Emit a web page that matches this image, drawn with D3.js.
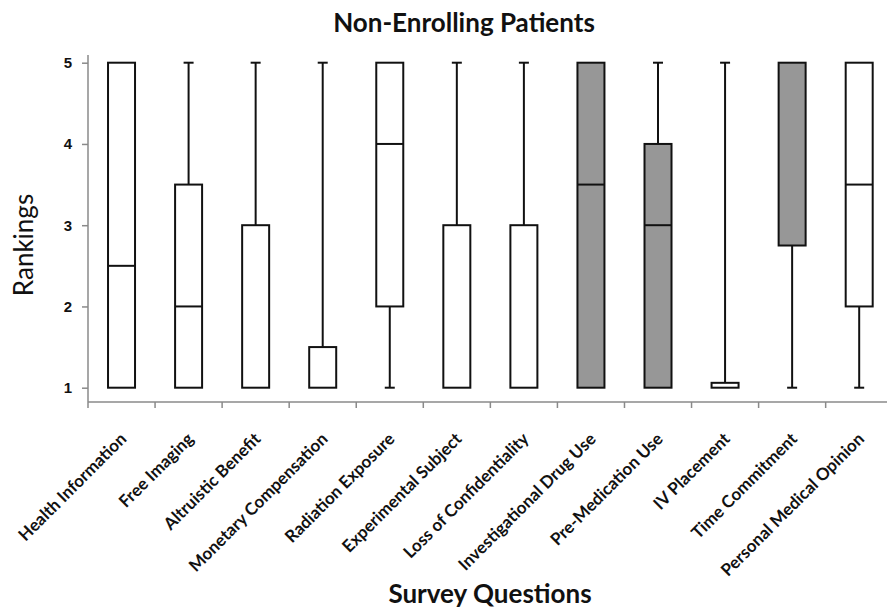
<!DOCTYPE html>
<html>
<head>
<meta charset="utf-8">
<script src="https://cdn.jsdelivr.net/npm/d3@7"></script>
<style>
  body { margin: 0; background: #fff; }
  svg { display: block; font-family: Lato, 'Open Sans', sans-serif; }
</style>
</head>
<body>
<div id="chart"></div>
<script>
const categories = ['Health Information', 'Free Imaging', 'Altruistic Benefit', 'Monetary Compensation',
  'Radiation Exposure', 'Experimental Subject', 'Loss of Confidentiality', 'Investigational Drug Use',
  'Pre-Medication Use', 'IV Placement', 'Time Commitment', 'Personal Medical Opinion'];
const minValues    = [1, 1, 1, 1, 1, 1, 1, 1, 1, 1, 1, 1];
const q1Values     = [1, 1, 1, 1, 2, 1, 1, 1, 1, 1, 2.75, 2];
const medianValues = [2.5, 2, 1, 1, 4, 1, 1, 3.5, 3, 1, 5, 3.5];
const q3Values     = [5, 3.5, 3, 1.5, 5, 3, 3, 5, 4, 1.06, 5, 5];
const maxValues    = [5, 5, 5, 5, 5, 5, 5, 5, 5, 5, 5, 5];
const shaded       = [false, false, false, false, false, false, false, true, true, false, true, false];
const yTicks = [1, 2, 3, 4, 5];

const width = 887, height = 609;
const margin = { left: 88, top: 55, bottom: 402 };
const step = 67.06;

const svg = d3.select('#chart').append('svg')
  .attr('width', width)
  .attr('height', height);

const x = d3.scaleBand()
  .domain(categories)
  .range([margin.left, margin.left + step * categories.length])
  .paddingInner(0)
  .paddingOuter(0);

const y = d3.scaleLinear()
  .domain([1, 5])
  .range([387.7, 62.7]);

const boxWidth = 27;
const capWidth = 10;

// axes
const yAxis = svg.append('g')
  .attr('transform', 'translate(' + margin.left + ',0)')
  .call(d3.axisLeft(y).tickValues(yTicks).tickSize(6).tickPadding(10).tickFormat(d3.format('d')));
yAxis.select('.domain').remove();
yAxis.append('line')
  .attr('x1', 0).attr('x2', 0)
  .attr('y1', margin.top).attr('y2', margin.bottom);
yAxis.selectAll('line').attr('stroke', '#8a8a8a').attr('stroke-width', 1.5);
yAxis.selectAll('text')
  .attr('fill', '#111')
  .style('font-size', '15px')
  .style('font-weight', 'bold');

const xAxis = svg.append('g')
  .attr('transform', 'translate(0,' + margin.bottom + ')');
xAxis.append('line')
  .attr('x1', margin.left).attr('x2', width)
  .attr('stroke', '#8a8a8a').attr('stroke-width', 1.5);
xAxis.selectAll('.tick')
  .data(d3.range(categories.length + 1))
  .enter().append('line')
    .attr('x1', (i) => margin.left + i * x.step())
    .attr('x2', (i) => margin.left + i * x.step())
    .attr('y1', 0).attr('y2', 6)
    .attr('stroke', '#8a8a8a').attr('stroke-width', 1.5);

xAxis.selectAll('.xlabel')
  .data(categories)
  .enter().append('text')
    .attr('text-anchor', 'end')
    .attr('transform', (d) => 'translate(' + (x(d) + x.bandwidth() / 2 + 6) + ',38) rotate(-45)')
    .attr('fill', '#111')
    .style('font-size', '17px')
    .style('font-weight', 'bold')
    .text((d) => d);

// boxes
const boxes = svg.append('g')
  .selectAll('g')
  .data(categories)
  .enter().append('g')
    .attr('transform', (d) => 'translate(' + (x(d) + x.bandwidth() / 2) + ',0)');

boxes.each(function(d, i) {
  const g = d3.select(this);
  const stroke = '#111';
  if (maxValues[i] > q3Values[i]) {
    g.append('line')
      .attr('x1', 0).attr('x2', 0)
      .attr('y1', y(q3Values[i])).attr('y2', y(maxValues[i]))
      .attr('stroke', stroke).attr('stroke-width', 2);
    g.append('line')
      .attr('x1', -capWidth / 2).attr('x2', capWidth / 2)
      .attr('y1', y(maxValues[i])).attr('y2', y(maxValues[i]))
      .attr('stroke', stroke).attr('stroke-width', 2);
  }
  if (minValues[i] < q1Values[i]) {
    g.append('line')
      .attr('x1', 0).attr('x2', 0)
      .attr('y1', y(q1Values[i])).attr('y2', y(minValues[i]))
      .attr('stroke', stroke).attr('stroke-width', 2);
    g.append('line')
      .attr('x1', -capWidth / 2).attr('x2', capWidth / 2)
      .attr('y1', y(minValues[i])).attr('y2', y(minValues[i]))
      .attr('stroke', stroke).attr('stroke-width', 2);
  }
  g.append('rect')
    .attr('x', -boxWidth / 2)
    .attr('width', boxWidth)
    .attr('y', y(q3Values[i]))
    .attr('height', y(q1Values[i]) - y(q3Values[i]))
    .attr('fill', shaded[i] ? '#979797' : '#fff')
    .attr('stroke', stroke).attr('stroke-width', 2);
  if (medianValues[i] > q1Values[i] && medianValues[i] < q3Values[i]) {
    g.append('line')
      .attr('x1', -boxWidth / 2).attr('x2', boxWidth / 2)
      .attr('y1', y(medianValues[i])).attr('y2', y(medianValues[i]))
      .attr('stroke', stroke).attr('stroke-width', 2);
  }
});

// titles
svg.append('text')
  .attr('x', 464).attr('y', 32)
  .attr('text-anchor', 'middle')
  .attr('fill', '#111')
  .style('font-size', '26px')
  .style('font-weight', 'bold')
  .text('Non-Enrolling Patients');

svg.append('text')
  .attr('transform', 'translate(33,245) rotate(-90)')
  .attr('text-anchor', 'middle')
  .attr('fill', '#111')
  .style('font-size', '26px')
  .text('Rankings');

svg.append('text')
  .attr('x', 490).attr('y', 603)
  .attr('text-anchor', 'middle')
  .attr('fill', '#111')
  .style('font-size', '26px')
  .style('font-weight', 'bold')
  .text('Survey Questions');
</script>
</body>
</html>
